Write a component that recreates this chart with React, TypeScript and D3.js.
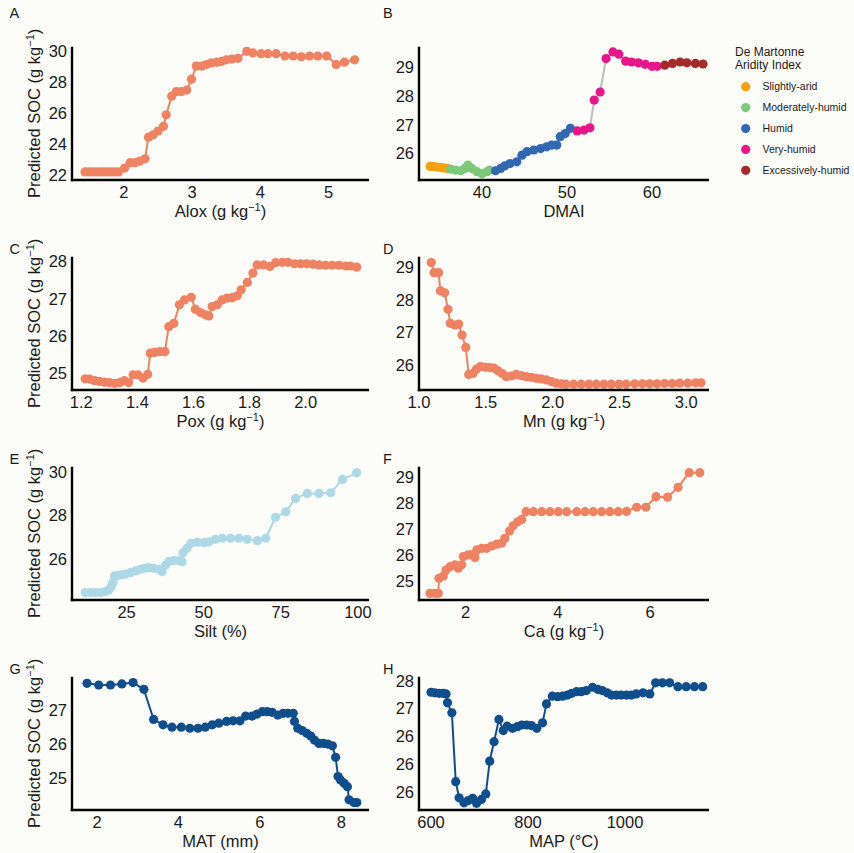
import React from "react";
import * as d3 from "d3";

// ---- Panel A: Alox ----
const aloxX = [1.43, 1.485, 1.54, 1.595, 1.65, 1.7, 1.755, 1.81, 1.865, 1.92, 2.01, 2.09, 2.16, 2.23, 2.31, 2.36, 2.43, 2.5, 2.58, 2.62, 2.7, 2.77, 2.84, 2.92, 2.99, 3.06, 3.14, 3.21, 3.28, 3.36, 3.43, 3.5, 3.58, 3.67, 3.8, 3.89, 4.01, 4.11, 4.23, 4.36, 4.48, 4.6, 4.72, 4.84, 4.97, 5.11, 5.23, 5.38];
const aloxSOC = [22.2, 22.2, 22.2, 22.2, 22.2, 22.2, 22.2, 22.2, 22.2, 22.2, 22.45, 22.8, 22.8, 22.9, 23.05, 24.45, 24.6, 24.85, 25.15, 25.9, 27.1, 27.4, 27.4, 27.5, 28.2, 29.05, 29.05, 29.15, 29.25, 29.3, 29.35, 29.45, 29.5, 29.55, 30.0, 29.9, 29.85, 29.85, 29.85, 29.7, 29.7, 29.65, 29.7, 29.7, 29.7, 29.15, 29.3, 29.45];

// ---- Panel B: DMAI, coloured by aridity class ----
const aridityClasses = ["Slightly-arid", "Moderately-humid", "Humid", "Very-humid", "Excessively-humid"];
const aridityColors = ["#F7A112", "#7DC87A", "#3268B1", "#E8168A", "#A52A2A"];
const dmaiX = [33.9, 34.3, 34.7, 35.1, 35.5, 35.9, 36.3, 36.9, 37.5, 38.0, 38.35, 38.8, 39.4, 40.0, 40.6, 40.9, 41.6, 42.2, 42.7, 43.3, 44.1, 44.7, 45.3, 46.1, 46.9, 47.6, 48.2, 48.8, 49.2, 49.8, 50.4, 51.2, 52.0, 52.7, 53.2, 53.9, 54.6, 55.4, 56.1, 56.9, 57.6, 58.4, 59.2, 60.0, 60.6, 61.5, 62.4, 63.3, 64.1, 65.1, 66.0];
const dmaiSOC = [25.55, 25.55, 25.53, 25.52, 25.5, 25.48, 25.46, 25.42, 25.4, 25.48, 25.6, 25.48, 25.37, 25.3, 25.37, 25.42, 25.4, 25.48, 25.57, 25.65, 25.71, 25.94, 26.06, 26.12, 26.17, 26.23, 26.29, 26.29, 26.58, 26.69, 26.87, 26.78, 26.81, 26.89, 27.85, 28.13, 29.29, 29.52, 29.44, 29.2, 29.17, 29.14, 29.09, 29.02, 29.02, 29.06, 29.12, 29.17, 29.14, 29.12, 29.1];
const dmaiClass = [0, 0, 0, 0, 0, 0, 1, 1, 1, 1, 1, 1, 1, 1, 1, 1, 2, 2, 2, 2, 2, 2, 2, 2, 2, 2, 2, 2, 2, 2, 2, 3, 3, 3, 3, 3, 3, 3, 3, 3, 3, 3, 3, 3, 3, 4, 4, 4, 4, 4, 4];

// ---- Panel C: Pox ----
const poxX = [1.214, 1.23, 1.248, 1.265, 1.283, 1.3, 1.32, 1.337, 1.354, 1.369, 1.385, 1.402, 1.42, 1.437, 1.446, 1.462, 1.48, 1.498, 1.512, 1.53, 1.55, 1.568, 1.592, 1.607, 1.625, 1.643, 1.655, 1.667, 1.685, 1.702, 1.72, 1.738, 1.756, 1.77, 1.792, 1.812, 1.827, 1.85, 1.873, 1.893, 1.917, 1.937, 1.96, 1.982, 2.004, 2.027, 2.048, 2.071, 2.095, 2.119, 2.143, 2.16, 2.182];
const poxSOC = [24.85, 24.84, 24.8, 24.78, 24.76, 24.75, 24.73, 24.75, 24.8, 24.75, 24.96, 24.96, 24.87, 24.97, 25.54, 25.56, 25.58, 25.58, 26.25, 26.34, 26.84, 26.97, 27.04, 26.72, 26.63, 26.57, 26.54, 26.79, 26.84, 26.97, 27.02, 27.03, 27.08, 27.24, 27.44, 27.69, 27.91, 27.91, 27.87, 27.97, 27.98, 27.98, 27.94, 27.94, 27.94, 27.93, 27.91, 27.9, 27.9, 27.9, 27.88, 27.88, 27.85];

// ---- Panel D: Mn ----
const mnX = [1.092, 1.112, 1.147, 1.16, 1.192, 1.217, 1.234, 1.267, 1.297, 1.322, 1.35, 1.372, 1.404, 1.429, 1.461, 1.496, 1.529, 1.561, 1.591, 1.623, 1.653, 1.69, 1.728, 1.766, 1.803, 1.84, 1.878, 1.915, 1.953, 1.99, 2.027, 2.065, 2.1, 2.157, 2.214, 2.272, 2.327, 2.384, 2.439, 2.496, 2.551, 2.614, 2.671, 2.726, 2.781, 2.838, 2.895, 2.95, 3.012, 3.07, 3.11];
const mnSOC = [29.15, 28.84, 28.84, 28.28, 28.22, 27.71, 27.28, 27.23, 27.26, 26.92, 26.54, 25.71, 25.74, 25.87, 25.95, 25.93, 25.92, 25.9, 25.82, 25.74, 25.64, 25.66, 25.71, 25.67, 25.64, 25.62, 25.59, 25.57, 25.54, 25.49, 25.44, 25.42, 25.41, 25.41, 25.41, 25.41, 25.41, 25.41, 25.41, 25.41, 25.41, 25.42, 25.42, 25.42, 25.42, 25.43, 25.43, 25.44, 25.44, 25.45, 25.45];

// ---- Panel E: Silt ----
const siltX = [11.6, 13.3, 14.9, 16.5, 18.1, 19.2, 20.0, 20.6, 21.1, 21.9, 23.2, 24.6, 26.2, 27.9, 29.5, 30.8, 32.2, 33.8, 35.4, 36.5, 37.6, 38.7, 40.3, 41.9, 43.0, 43.3, 44.6, 45.9, 47.9, 50.1, 51.7, 53.8, 56.0, 58.7, 61.4, 64.1, 67.4, 70.1, 73.3, 76.6, 79.8, 83.6, 87.4, 91.2, 95.0, 99.6];
const siltSOC = [24.48, 24.48, 24.48, 24.48, 24.52, 24.6, 24.75, 24.94, 25.24, 25.24, 25.29, 25.32, 25.39, 25.47, 25.54, 25.59, 25.62, 25.59, 25.54, 25.44, 25.74, 25.89, 25.94, 25.94, 25.89, 26.3, 26.5, 26.73, 26.78, 26.76, 26.8, 26.91, 26.96, 26.96, 26.96, 26.91, 26.85, 26.96, 27.92, 28.17, 28.78, 29.01, 29.01, 29.04, 29.65, 29.95];

// ---- Panel F: Ca ----
const caX = [1.226, 1.335, 1.407, 1.42, 1.515, 1.573, 1.66, 1.769, 1.84, 1.913, 1.95, 2.058, 2.13, 2.2, 2.24, 2.347, 2.456, 2.564, 2.673, 2.78, 2.85, 2.95, 3.03, 3.13, 3.215, 3.31, 3.47, 3.65, 3.83, 4.01, 4.19, 4.41, 4.59, 4.77, 4.95, 5.13, 5.31, 5.49, 5.71, 5.91, 6.13, 6.38, 6.61, 6.85, 7.08];
const caSOC = [24.51, 24.51, 24.51, 25.09, 25.18, 25.41, 25.54, 25.61, 25.48, 25.61, 25.93, 26.0, 26.0, 25.9, 26.19, 26.25, 26.25, 26.34, 26.41, 26.45, 26.64, 26.92, 27.12, 27.28, 27.37, 27.67, 27.67, 27.67, 27.67, 27.67, 27.67, 27.67, 27.67, 27.67, 27.67, 27.67, 27.67, 27.68, 27.84, 27.84, 28.25, 28.23, 28.61, 29.18, 29.18];

// ---- Panel G: MAT ----
const matX = [1.754, 2.04, 2.33, 2.61, 2.885, 3.15, 3.39, 3.62, 3.84, 4.07, 4.28, 4.48, 4.66, 4.83, 4.99, 5.18, 5.34, 5.51, 5.65, 5.81, 5.93, 6.06, 6.18, 6.3, 6.44, 6.57, 6.69, 6.82, 6.85, 6.93, 7.04, 7.15, 7.25, 7.34, 7.45, 7.56, 7.67, 7.78, 7.86, 7.92, 7.98, 8.07, 8.15, 8.19, 8.31, 8.38];
const matSOC = [27.79, 27.74, 27.74, 27.77, 27.81, 27.61, 26.72, 26.56, 26.49, 26.49, 26.46, 26.46, 26.49, 26.56, 26.61, 26.66, 26.68, 26.68, 26.82, 26.82, 26.88, 26.95, 26.95, 26.93, 26.85, 26.9, 26.9, 26.9, 26.66, 26.46, 26.39, 26.31, 26.23, 26.11, 26.01, 26.01, 25.99, 25.94, 25.6, 25.03, 24.93, 24.83, 24.73, 24.34, 24.26, 24.26];

// ---- Panel H: MAP ----
const mapX = [600, 608, 617, 625, 631, 634, 643, 651, 658, 668, 677, 686, 694, 704, 713, 721, 730, 740, 749, 757, 768, 778, 787, 797, 807, 818, 830, 838, 850, 861, 871, 881, 890, 900, 910, 920, 933, 944, 953, 963, 972, 982, 992, 1003, 1013, 1023, 1037, 1051, 1063, 1077, 1092, 1109, 1126, 1143, 1160];
const mapSOC = [27.29, 27.28, 27.27, 27.27, 27.26, 27.1, 26.92, 25.68, 25.39, 25.3, 25.34, 25.38, 25.29, 25.36, 25.46, 26.05, 26.4, 26.8, 26.6, 26.68, 26.64, 26.67, 26.7, 26.7, 26.69, 26.64, 26.74, 27.08, 27.22, 27.21, 27.22, 27.24, 27.27, 27.3, 27.3, 27.32, 27.38, 27.34, 27.32, 27.28, 27.24, 27.24, 27.24, 27.24, 27.24, 27.26, 27.28, 27.26, 27.46, 27.46, 27.46, 27.39, 27.39, 27.39, 27.39];

// ---- Tick values ----
const aloxTicks = [2, 3, 4, 5];
const aloxYTicks = [22, 24, 26, 28, 30];
const dmaiTicks = [40, 50, 60];
const dmaiYTicks = [26, 27, 28, 29];
const poxTicks = [1.2, 1.4, 1.6, 1.8, 2.0];
const poxYTicks = [25, 26, 27, 28];
const mnTicks = [1.0, 1.5, 2.0, 2.5, 3.0];
const mnYTicks = [26, 27, 28, 29];
const siltTicks = [25, 50, 75, 100];
const siltYTicks = [26, 28, 30];
const caTicks = [2, 4, 6];
const caYTicks = [25, 26, 27, 28, 29];
const matTicks = [2, 4, 6, 8];
const matYTicks = [25, 26, 27];
const mapTicks = [600, 800, 1000];
const mapYTicks = [25.5, 26, 26.5, 27, 27.5];

const SALMON = "#EE8262";
const LIGHTBLUE = "#ADD8E6";
const NAVY = "#104E8B";
const FONT = "'Liberation Sans', Arial, Helvetica, sans-serif";
const BG = "#fcfcf8";

// integer label with round-half-to-even
const roundEven = (v: number) => {
  const f = Math.floor(v);
  if (Math.abs(v - f - 0.5) < 1e-9) return String(f % 2 === 0 ? f : f + 1);
  return String(Math.round(v));
};
const fmtInt = (v: number) => String(v);
const fmt1 = d3.format(".1f");

type Spec = {
  letter: string;
  col: number;
  row: number;
  xs: number[];
  ys: number[];
  xDomain: [number, number];
  yDomain: [number, number];
  xTicks: number[];
  yTicks: number[];
  xFmt: (v: number) => string;
  yFmt: (v: number) => string;
  xTitle: React.ReactNode;
  color: string;
  pointColors?: string[];
  lineColor?: string;
};

const colX: [number, number][] = [
  [72, 369],
  [419, 709],
];
const rowTop = [46.7, 256.7, 466.7, 676.7];
const PANEL_H = 133.3;

const gkg = (name: string) => (
  <>
    {name} (g kg
    <tspan baselineShift="super" fontSize="11">
      −1
    </tspan>
    )
  </>
);

const specs: Spec[] = [
  { letter: "A", col: 0, row: 0, xs: aloxX, ys: aloxSOC, xDomain: [1.24, 5.59], yDomain: [21.68, 30.3], xTicks: aloxTicks, yTicks: aloxYTicks, xFmt: fmtInt, yFmt: fmtInt, xTitle: gkg("Alox"), color: SALMON },
  {
    letter: "B", col: 1, row: 0, xs: dmaiX, ys: dmaiSOC, xDomain: [32.6, 66.7], yDomain: [25.08, 29.7], xTicks: dmaiTicks, yTicks: dmaiYTicks, xFmt: fmtInt, yFmt: fmtInt, xTitle: "DMAI", color: "#999",
    pointColors: dmaiClass.map((c) => aridityColors[c]), lineColor: "#bdbdbd",
  },
  { letter: "C", col: 0, row: 1, xs: poxX, ys: poxSOC, xDomain: [1.167, 2.226], yDomain: [24.55, 28.13], xTicks: poxTicks, yTicks: poxYTicks, xFmt: fmt1, yFmt: fmtInt, xTitle: gkg("Pox"), color: SALMON },
  { letter: "D", col: 1, row: 1, xs: mnX, ys: mnSOC, xDomain: [1.0, 3.17], yDomain: [25.23, 29.33], xTicks: mnTicks, yTicks: mnYTicks, xFmt: fmt1, yFmt: fmtInt, xTitle: gkg("Mn"), color: SALMON },
  { letter: "E", col: 0, row: 2, xs: siltX, ys: siltSOC, xDomain: [7.3, 103.6], yDomain: [24.14, 30.23], xTicks: siltTicks, yTicks: siltYTicks, xFmt: fmtInt, yFmt: fmtInt, xTitle: "Silt (%)", color: LIGHTBLUE },
  { letter: "F", col: 1, row: 2, xs: caX, ys: caSOC, xDomain: [0.987, 7.28], yDomain: [24.25, 29.41], xTicks: caTicks, yTicks: caYTicks, xFmt: fmtInt, yFmt: fmtInt, xTitle: gkg("Ca"), color: SALMON },
  { letter: "G", col: 0, row: 3, xs: matX, ys: matSOC, xDomain: [1.385, 8.68], yDomain: [24.04, 27.985], xTicks: matTicks, yTicks: matYTicks, xFmt: fmtInt, yFmt: fmtInt, xTitle: "MAT (mm)", color: NAVY },
  { letter: "H", col: 1, row: 3, xs: mapX, ys: mapSOC, xDomain: [575.3, 1173], yDomain: [25.17, 27.57], xTicks: mapTicks, yTicks: mapYTicks, xFmt: fmtInt, yFmt: roundEven, xTitle: "MAP (°C)", color: NAVY },
];

function Panel({ s }: { s: Spec }) {
  const [x0, x1] = colX[s.col];
  const top = rowTop[s.row];
  const bottom = top + PANEL_H;
  const x = d3.scaleLinear().domain(s.xDomain).range([x0, x1]);
  const y = d3.scaleLinear().domain(s.yDomain).range([bottom, top]);
  const pts = s.xs.map((v, i) => [v, s.ys[i]] as [number, number]);
  const line = d3
    .line<[number, number]>()
    .x((d) => x(d[0]))
    .y((d) => y(d[1]));
  const cy = (top + bottom) / 2;
  return (
    <g>
      <path d={line(pts) ?? ""} fill="none" stroke={s.lineColor ?? s.color} strokeWidth={2} strokeLinejoin="round" />
      {pts.map((d, i) => (
        <circle key={i} cx={x(d[0])} cy={y(d[1])} r={4.6} fill={s.pointColors ? s.pointColors[i] : s.color} />
      ))}
      {/* axes */}
      <line x1={x0} x2={x0} y1={top} y2={bottom + 1.2} stroke="#000" strokeWidth={2.4} />
      <line x1={x0 - 1.2} x2={x1} y1={bottom} y2={bottom} stroke="#000" strokeWidth={2.4} />
      {s.yTicks.map((t) => (
        <text key={"y" + t} x={x0 - 5} y={y(t)} dy="0.36em" textAnchor="end" fontSize={16.5} fill="#1a1a1a">
          {s.yFmt(t)}
        </text>
      ))}
      {s.xTicks.map((t) => (
        <text key={"x" + t} x={x(t)} y={bottom + 18} textAnchor="middle" fontSize={16.5} fill="#1a1a1a">
          {s.xFmt(t)}
        </text>
      ))}
      <text x={(x0 + x1) / 2} y={bottom + 37} textAnchor="middle" fontSize={16.5} fill="#1a1a1a">
        {s.xTitle}
      </text>
      {s.col === 0 && (
        <text transform={`translate(40,${cy}) rotate(-90)`} textAnchor="middle" fontSize={16.5} fill="#1a1a1a">
          {gkg("Predicted SOC")}
        </text>
      )}
      <text x={s.col === 0 ? 9.5 : 383} y={s.row === 0 ? 18 : top - 3} fontSize={14.5} fill="#1a1a1a">
        {s.letter}
      </text>
    </g>
  );
}

function Legend() {
  const lx = 735;
  return (
    <g fontFamily={FONT}>
      <text x={lx} y={56} fontSize={12} fill="#1a1a1a">
        De Martonne
      </text>
      <text x={lx} y={68.5} fontSize={12} fill="#1a1a1a">
        Aridity Index
      </text>
      {aridityClasses.map((c, i) => (
        <g key={c}>
          <circle cx={745.7} cy={86.7 + i * 20.9} r={4.6} fill={aridityColors[i]} />
          <text x={762.5} y={86.7 + i * 20.9} dy="0.35em" fontSize={10.5} fill="#1a1a1a">
            {c}
          </text>
        </g>
      ))}
    </g>
  );
}

export default function App() {
  return (
    <svg
      width={854}
      height={853}
      style={{ position: "absolute", left: 0, top: 0, display: "block" }}
      fontFamily={FONT}
    >
      <rect width={854} height={853} fill={BG} />
      {specs.map((s) => (
        <Panel key={s.letter} s={s} />
      ))}
      <Legend />
    </svg>
  );
}
